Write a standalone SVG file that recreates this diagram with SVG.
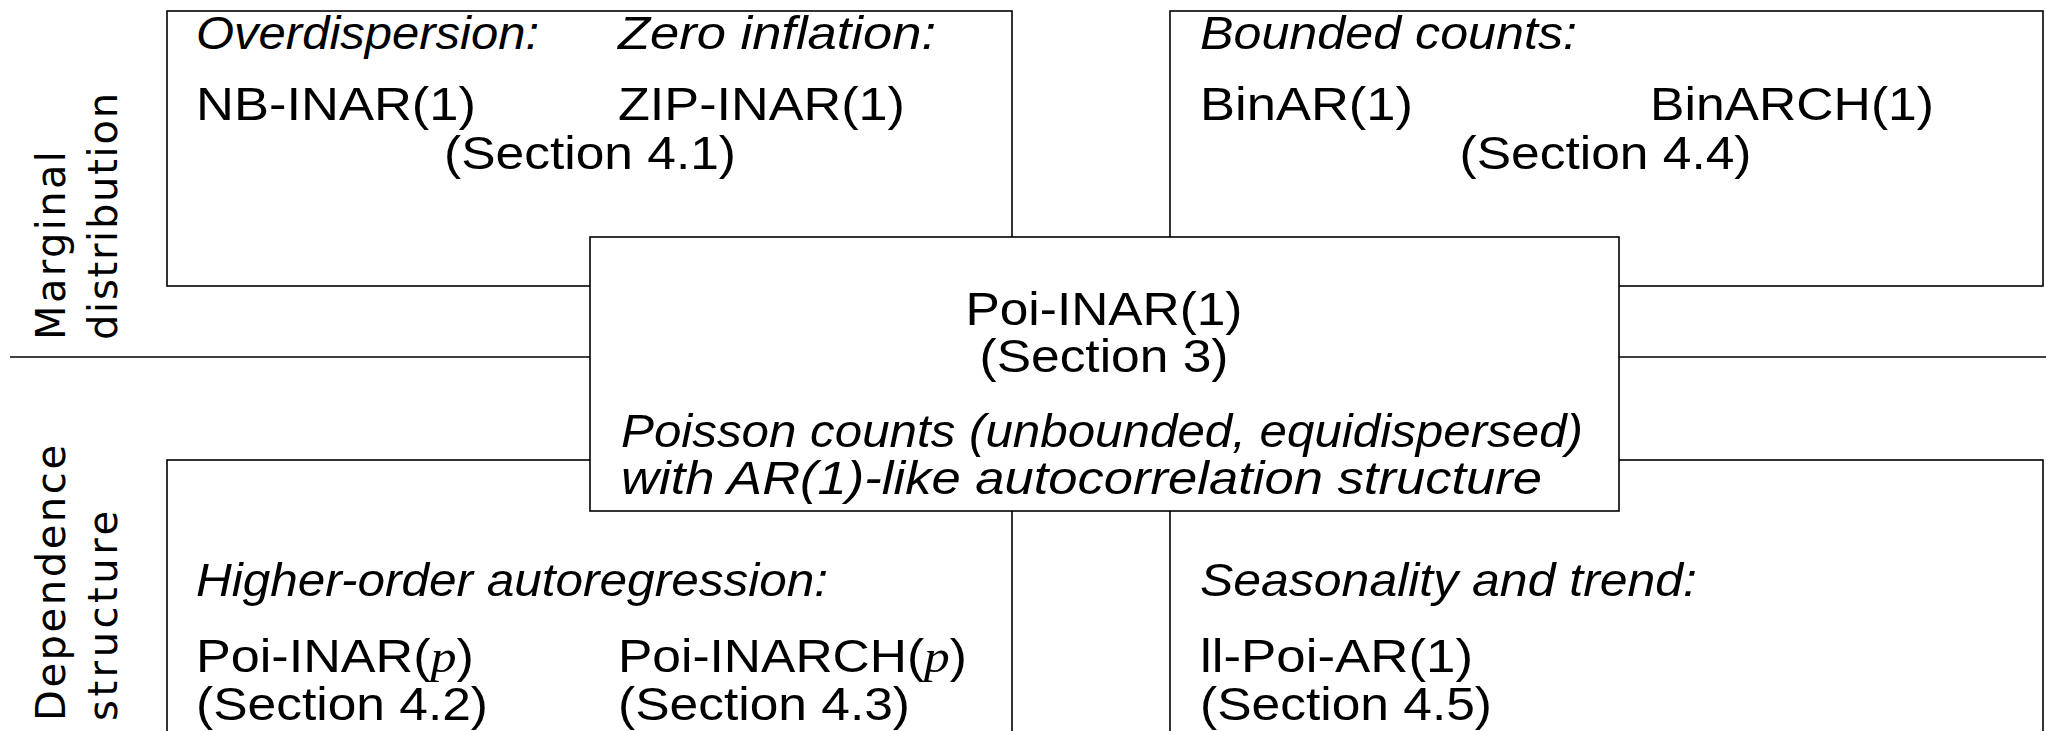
<svg xmlns="http://www.w3.org/2000/svg" width="2046" height="731" viewBox="0 0 2046 731">
<style>
.box{fill:#fff;stroke:#000;stroke-width:1.6}
.t{font-family:"Liberation Sans",Arial,sans-serif;font-size:47px;fill:#000}
.i{font-style:italic}
.m{font-family:"Liberation Serif",serif;font-style:italic}
.lab{font-family:"DejaVu Sans",sans-serif;font-size:40px;fill:#000}
</style>
<rect width="2046" height="731" fill="#fff"/>
<g id="labels">
<text class="lab" transform="translate(65,340) rotate(-90)" textLength="189">Marginal</text>
<text class="lab" transform="translate(117,340) rotate(-90)" textLength="247">distribution</text>
<text class="lab" transform="translate(65,721) rotate(-90)" textLength="276">Dependence</text>
<text class="lab" transform="translate(117,721) rotate(-90)" textLength="210">structure</text>
</g>
<g id="connectors">
<line x1="10" y1="357" x2="2046" y2="357" stroke="#000" stroke-width="1.6"/>
</g>
<g id="marginal-left">
<rect class="box" x="167" y="11" width="845" height="275"/>
<text class="t i" x="196" y="49" textLength="343" lengthAdjust="spacingAndGlyphs">Overdispersion:</text>
<text class="t i" x="618" y="49" textLength="318" lengthAdjust="spacingAndGlyphs">Zero inflation:</text>
<text class="t" x="196" y="120" textLength="280" lengthAdjust="spacingAndGlyphs">NB-INAR(1)</text>
<text class="t" x="618" y="120" textLength="287" lengthAdjust="spacingAndGlyphs">ZIP-INAR(1)</text>
<text class="t" x="590" y="169" text-anchor="middle" textLength="292" lengthAdjust="spacingAndGlyphs">(Section 4.1)</text>
</g>
<g id="marginal-right">
<rect class="box" x="1170" y="11" width="873" height="275"/>
<text class="t i" x="1200" y="49" textLength="377" lengthAdjust="spacingAndGlyphs">Bounded counts:</text>
<text class="t" x="1200" y="120" textLength="213" lengthAdjust="spacingAndGlyphs">BinAR(1)</text>
<text class="t" x="1650" y="120" textLength="284" lengthAdjust="spacingAndGlyphs">BinARCH(1)</text>
<text class="t" x="1605.5" y="169" text-anchor="middle" textLength="292" lengthAdjust="spacingAndGlyphs">(Section 4.4)</text>
</g>
<g id="dependence-left">
<rect class="box" x="167" y="460" width="845" height="300"/>
<text class="t i" x="196" y="596" textLength="632" lengthAdjust="spacingAndGlyphs">Higher-order autoregression:</text>
<text class="t" x="196" y="672" textLength="278" lengthAdjust="spacingAndGlyphs">Poi-INAR(<tspan class="m">p</tspan>)</text>
<text class="t" x="618" y="672" textLength="349" lengthAdjust="spacingAndGlyphs">Poi-INARCH(<tspan class="m">p</tspan>)</text>
<text class="t" x="196" y="720" textLength="292" lengthAdjust="spacingAndGlyphs">(Section 4.2)</text>
<text class="t" x="618" y="720" textLength="292" lengthAdjust="spacingAndGlyphs">(Section 4.3)</text>
</g>
<g id="dependence-right">
<rect class="box" x="1170" y="460" width="873" height="300"/>
<text class="t i" x="1200" y="596" textLength="497" lengthAdjust="spacingAndGlyphs">Seasonality and trend:</text>
<text class="t" x="1200" y="672" textLength="273" lengthAdjust="spacingAndGlyphs">ll-Poi-AR(1)</text>
<text class="t" x="1200" y="720" textLength="292" lengthAdjust="spacingAndGlyphs">(Section 4.5)</text>
</g>
<g id="center">
<rect class="box" x="590" y="237" width="1029" height="274"/>
<text class="t" x="1104" y="325" text-anchor="middle" textLength="277" lengthAdjust="spacingAndGlyphs">Poi-INAR(1)</text>
<text class="t" x="1104" y="372" text-anchor="middle" textLength="249" lengthAdjust="spacingAndGlyphs">(Section 3)</text>
<text class="t i" x="621" y="447" textLength="962" lengthAdjust="spacingAndGlyphs">Poisson counts (unbounded, equidispersed)</text>
<text class="t i" x="621" y="494" textLength="921" lengthAdjust="spacingAndGlyphs">with AR(1)-like autocorrelation structure</text>
</g>
</svg>
